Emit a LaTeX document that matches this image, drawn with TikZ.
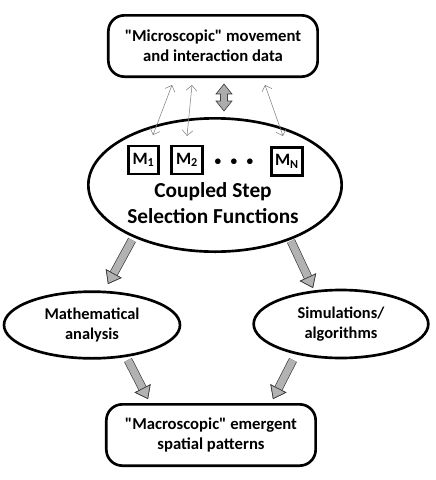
\documentclass[tikz,border=0pt]{standalone}
\usepackage{fontspec}
\setmainfont{Carlito}
\usetikzlibrary{shapes.geometric,arrows.meta}

\begin{document}
\begin{tikzpicture}[x=0.75pt,y=-0.75pt,
    box/.style={draw, line width=2pt, rounded corners=12pt, align=center,
                minimum width=157pt, minimum height=46pt, font=\bfseries\fontsize{12.5}{15}\selectfont},
    oval/.style={draw, ellipse, line width=2pt, align=center, inner sep=0pt,
                 font=\bfseries\fontsize{12.3}{15.5}\selectfont},
    mbox/.style={draw, line width=2.2pt, minimum width=23pt, minimum height=21pt,
                 inner sep=0pt, font=\bfseries\fontsize{13}{15}\selectfont},
    thin/.style={draw=gray, line width=0.4pt, {Straight Barb[length=4pt]}-{Straight Barb[length=4pt]}},
    fat/.style={draw=gray!50!black, line width=0.5pt, fill=gray!65},
    blockarrow/.style={draw=gray!60, line width=5.5pt,
        -{Triangle[width=13.5pt,length=9pt,line width=0.5pt,color=gray!45!black,fill=gray!60]},
        preaction={draw=gray!45!black, line width=6.5pt,
        -{Triangle[width=13.5pt,length=9pt,line width=0.5pt,color=gray!45!black,fill=gray!60]}}}]
    \useasboundingbox (0,0) rectangle (436,480);

    % Blocchi principali
    \node (micro) [box] at (213,46) {\textquotedbl Microscopic\textquotedbl\ movement\\and interaction data};
    \node (cssf) [oval, minimum width=190pt, minimum height=100pt] at (215,185) {};
    \node (label) [font=\bfseries\fontsize{16}{19}\selectfont, align=center] at (213,203)
        {Coupled Step\\Selection Functions};
    \node (m1) [mbox] at (143.5,160) {M\textsubscript{1}};
    \node (m2) [mbox] at (187,160) {M\textsubscript{2}};
    \node (dots) [font=\bfseries\fontsize{10}{12}\selectfont] at (234,162)
        {\textbullet\hspace{7pt}\textbullet\hspace{7pt}\textbullet};
    \node (mn) [mbox] at (287,161.5) {M\textsubscript{N}};
    \node (math) [oval, minimum width=132pt, minimum height=50pt] at (92,325)
        {Mathematical\\analysis};
    \node (sim) [oval, minimum width=131pt, minimum height=51pt] at (341,324)
        {Simulations/\\algorithms};
    \node (macro) [box] at (211,435) {\textquotedbl Macroscopic\textquotedbl\ emergent\\spatial patterns};

    % Estremi delle frecce
    \coordinate (t1) at (172,85);  \coordinate (b1) at (153,135);
    \coordinate (t2) at (192,85);  \coordinate (b2) at (187,136);
    \coordinate (t3) at (265,85);  \coordinate (b3) at (283,136);
    \coordinate (ct) at (224,84);  \coordinate (cb) at (224,111);
    \coordinate (l1) at (132,240); \coordinate (l2) at (108,284);
    \coordinate (r1) at (291,241); \coordinate (r2) at (313,288);
    \coordinate (l3) at (128,360); \coordinate (l4) at (148,399);
    \coordinate (r3) at (293,360); \coordinate (r4) at (273,399);

    % Frecce sottili
    \draw[thin] (t1) -- (b1);
    \draw[thin] (t2) -- (b2);
    \draw[thin] (t3) -- (b3);

    % Freccia doppia centrale
    \filldraw[fat] (ct) -- ([shift={(-8,10)}]ct) -- ([shift={(-3.5,10)}]ct)
        -- ([shift={(-3.5,-10)}]cb) -- ([shift={(-8,-10)}]cb) -- (cb)
        -- ([shift={(8,-10)}]cb) -- ([shift={(3.5,-10)}]cb)
        -- ([shift={(3.5,10)}]ct) -- ([shift={(8,10)}]ct) -- cycle;

    % Frecce grigie
    \draw[blockarrow] (l1) -- (l2);
    \draw[blockarrow] (r1) -- (r2);
    \draw[blockarrow] (l3) -- (l4);
    \draw[blockarrow] (r3) -- (r4);
\end{tikzpicture}
\end{document}
